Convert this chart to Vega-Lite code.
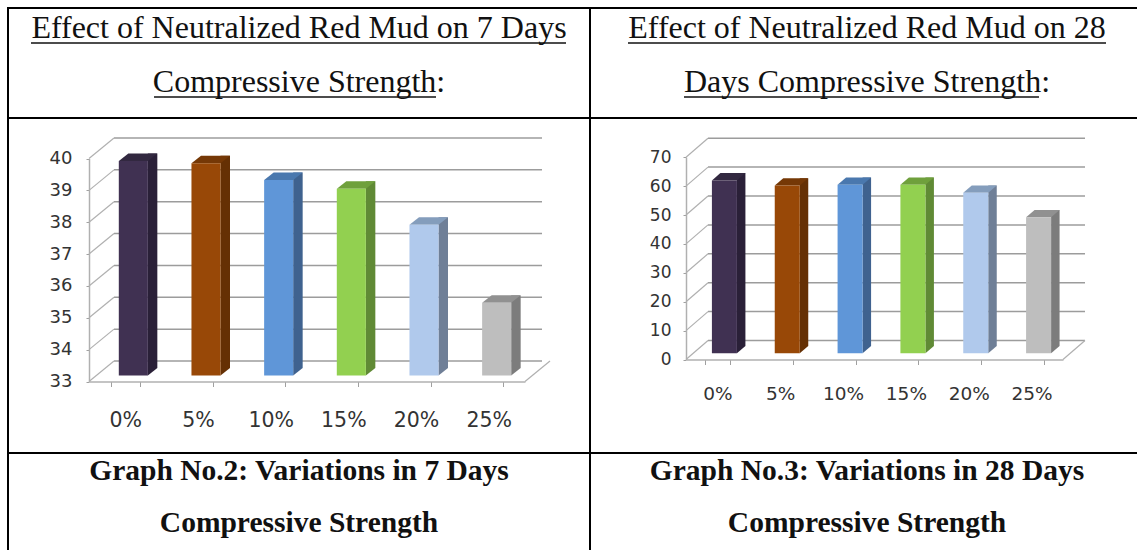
{"$schema":"https://vega.github.io/schema/vega-lite/v6.json","padding":{"left":7,"top":7,"right":0,"bottom":0},"background":"white","spacing":0,"bounds":"flush","columns":2,"config":{"view":{"stroke":"black","strokeWidth":2},"concat":{"spacing":0},"text":{"font":"Liberation Serif"}},
"datasets":{"strength7":[{"cat":"0%","value":39.73},{"cat":"5%","value":39.66},{"cat":"10%","value":39.14},{"cat":"15%","value":38.86},{"cat":"20%","value":37.73},{"cat":"25%","value":35.28}],
"strength28":[{"cat":"0%","value":59.8},{"cat":"5%","value":58},{"cat":"10%","value":58.3},{"cat":"15%","value":58.3},{"cat":"20%","value":55.5},{"cat":"25%","value":47}],
"ticks7":[{"tick":33},{"tick":34},{"tick":35},{"tick":36},{"tick":37},{"tick":38},{"tick":39},{"tick":40}],
"ticks28":[{"tick":0},{"tick":10},{"tick":20},{"tick":30},{"tick":40},{"tick":50},{"tick":60},{"tick":70}],
"head1":[{"line":1,"text":"Effect of Neutralized Red Mud on 7 Days"},{"line":2,"text":"Compressive Strength:"}],
"head2":[{"line":1,"text":"Effect of Neutralized Red Mud on 28"},{"line":2,"text":"Days Compressive Strength:"}],
"cap1":[{"line":1,"text":"Graph No.2: Variations in 7 Days"},{"line":2,"text":"Compressive Strength"}],
"cap2":[{"line":1,"text":"Graph No.3: Variations in 28 Days"},{"line":2,"text":"Compressive Strength"}]},
"concat":[
{"width":582,"height":110,"layer":[
{"data":{"name":"head1"},"mark":{"type":"text","fontSize":32,"baseline":"alphabetic","align":"center","color":"#111"},"encoding":{"x":{"datum":0.5,"type":"quantitative","scale":{"domain":[0,1]},"axis":null},"y":{"field":"line","type":"quantitative","scale":{"domain":[0.444,2.481],"reverse":true,"zero":false,"nice":false},"axis":null},"text":{"field":"text"}}},
{"data":{"values":[{}]},"mark":{"type":"rule","color":"#111","strokeWidth":1.6,"yOffset":5,"y2Offset":5},"encoding":{"x":{"datum":0.0395,"type":"quantitative"},"x2":{"datum":0.9588},"y":{"datum":1,"type":"quantitative"},"y2":{"datum":1}}},
{"data":{"values":[{}]},"mark":{"type":"rule","color":"#111","strokeWidth":1.6,"yOffset":5,"y2Offset":5},"encoding":{"x":{"datum":0.2509,"type":"quantitative"},"x2":{"datum":0.7354},"y":{"datum":2,"type":"quantitative"},"y2":{"datum":2}}}
]},
{"width":548,"height":110,"layer":[
{"data":{"name":"head2"},"mark":{"type":"text","fontSize":32,"baseline":"alphabetic","align":"center","color":"#111"},"encoding":{"x":{"datum":0.5055,"type":"quantitative","scale":{"domain":[0,1]},"axis":null},"y":{"field":"line","type":"quantitative","scale":{"domain":[0.444,2.481],"reverse":true,"zero":false,"nice":false},"axis":null},"text":{"field":"text"}}},
{"data":{"values":[{}]},"mark":{"type":"rule","color":"#111","strokeWidth":1.6,"yOffset":5,"y2Offset":5},"encoding":{"x":{"datum":0.0693,"type":"quantitative"},"x2":{"datum":0.9416},"y":{"datum":1,"type":"quantitative"},"y2":{"datum":1}}},
{"data":{"values":[{}]},"mark":{"type":"rule","color":"#111","strokeWidth":1.6,"yOffset":5,"y2Offset":5},"encoding":{"x":{"datum":0.1715,"type":"quantitative"},"x2":{"datum":0.8193},"y":{"datum":2,"type":"quantitative"},"y2":{"datum":2}}}
]},
{"width":582,"height":335,"resolve":{"scale":{"color":"independent"}},"layer":[
{"data":{"name":"ticks7"},"mark":{"type":"rule","color":"#9c9c9c","strokeWidth":1.5,"xOffset":-11.33,"x2Offset":53.33,"yOffset":-20.5,"y2Offset":-20.5},"encoding":{"x":{"datum":"0%","type":"ordinal","scale":{"type":"band","domain":["0%","5%","10%","15%","20%","25%"],"range":[81,517],"paddingInner":0.6,"paddingOuter":0.3},"axis":{"orient":"bottom","offset":-71.5,"title":null,"tickBand":"extent","labelAngle":0,"domainColor":"#b0b0b0","domainWidth":1.5,"tickColor":"#a0a0a0","tickSize":5,"tickWidth":1,"labelFont":"DejaVu Sans","labelFontSize":20.5,"labelColor":"#333","labelPadding":24}},"x2":{"datum":"25%"},"y":{"field":"tick","type":"quantitative","scale":{"domain":[33,40],"range":[263.5,40.5],"zero":false,"nice":false},"axis":{"orient":"left","offset":-81,"title":null,"values":[33,34,35,36,37,38,39,40],"grid":false,"domainColor":"#b0b0b0","domainWidth":1.5,"tickColor":"#a0a0a0","tickSize":3,"tickWidth":1,"labelFont":"DejaVu Sans","labelFontSize":18,"labelColor":"#333","labelPadding":14}},"y2":{"field":"tick"}}},
{"data":{"name":"ticks7"},"mark":{"type":"point","shape":"M0,0L0.5,-0.41","size":10000,"filled":false,"opacity":1,"stroke":"#b0b0b0","strokeWidth":1.2,"xOffset":-36.33},"encoding":{"x":{"datum":"0%","type":"ordinal","axis":{"title":null}},"y":{"field":"tick","type":"quantitative","axis":{"title":null}}}},
{"data":{"values":[{}]},"mark":{"type":"point","shape":"M0,0L0.5,-0.41","size":10000,"filled":false,"opacity":1,"stroke":"#b0b0b0","strokeWidth":1.2,"xOffset":36.33},"encoding":{"x":{"datum":"25%","type":"ordinal","axis":{"title":null}},"y":{"datum":33,"type":"quantitative","axis":{"title":null}}}},
{"data":{"name":"strength7"},"mark":{"type":"rule","strokeWidth":9.5,"strokeCap":"butt","xOffset":27.25,"x2Offset":27.25,"yOffset":-13.5,"y2Offset":-13.5},"encoding":{"x":{"field":"cat","type":"ordinal","axis":{"title":null}},"y":{"field":"value","type":"quantitative","axis":{"title":null}},"y2":{"datum":33},"color":{"field":"cat","legend":null,"scale":{"domain":["0%","5%","10%","15%","20%","25%"],"range":["#2a2038","#653004","#3f628f","#608a35","#6f7f97","#7c7c7c"]}}}},
{"data":{"name":"strength7"},"mark":{"type":"point","shape":"M0.29,0L0.48,-0.15L0.29,-0.15Z","size":10000,"filled":true,"opacity":1,"xOffset":8,"yOffset":-6},"encoding":{"x":{"field":"cat","type":"ordinal","axis":{"title":null}},"y":{"datum":33,"type":"quantitative","axis":{"title":null}},"color":{"field":"cat","legend":null,"scale":{"domain":["0%","5%","10%","15%","20%","25%"],"range":["#2a2038","#653004","#3f628f","#608a35","#6f7f97","#7c7c7c"]}}}},
{"data":{"name":"strength7"},"mark":{"type":"point","shape":"M-0.29,0L0.29,0L0.48,-0.15L-0.1,-0.15Z","size":10000,"filled":true,"opacity":1,"xOffset":8,"yOffset":-6},"encoding":{"x":{"field":"cat","type":"ordinal","axis":{"title":null}},"y":{"field":"value","type":"quantitative","axis":{"title":null}},"color":{"field":"cat","legend":null,"scale":{"domain":["0%","5%","10%","15%","20%","25%"],"range":["#322840","#753806","#4a78ae","#6fa03c","#849dbc","#919191"]}}}},
{"data":{"name":"strength7"},"mark":{"type":"bar","xOffset":8,"x2Offset":8,"yOffset":-6,"y2Offset":-6},"encoding":{"x":{"field":"cat","type":"ordinal","axis":{"title":null}},"y":{"field":"value","type":"quantitative","axis":{"title":null}},"y2":{"datum":33},"color":{"field":"cat","legend":null,"scale":{"domain":["0%","5%","10%","15%","20%","25%"],"range":["#403152","#984807","#5f96d8","#92d050","#b0c9ec","#bebebe"]}}}}
]},
{"width":548,"height":335,"resolve":{"scale":{"color":"independent"}},"layer":[
{"data":{"name":"ticks28"},"mark":{"type":"rule","color":"#9c9c9c","strokeWidth":1.5,"xOffset":-9.42,"x2Offset":53.42,"yOffset":-19,"y2Offset":-19},"encoding":{"x":{"datum":"0%","type":"ordinal","scale":{"type":"band","domain":["0%","5%","10%","15%","20%","25%"],"range":[96,473],"paddingInner":0.602,"paddingOuter":0.301},"axis":{"orient":"bottom","offset":-93.5,"title":null,"tickBand":"extent","labelAngle":0,"domainColor":"#b0b0b0","domainWidth":1.5,"tickColor":"#a0a0a0","tickSize":5,"tickWidth":1,"labelFont":"DejaVu Sans","labelFontSize":18.5,"labelColor":"#333","labelPadding":20}},"x2":{"datum":"25%"},"y":{"field":"tick","type":"quantitative","scale":{"domain":[0,70],"range":[241.5,39.2],"nice":false},"axis":{"orient":"left","offset":-96,"title":null,"values":[0,10,20,30,40,50,60,70],"grid":false,"domainColor":"#b0b0b0","domainWidth":1.5,"tickColor":"#a0a0a0","tickSize":3,"tickWidth":1,"labelFont":"DejaVu Sans","labelFontSize":17,"labelColor":"#333","labelPadding":12}},"y2":{"field":"tick"}}},
{"data":{"name":"ticks28"},"mark":{"type":"point","shape":"M0,0L0.44,-0.38","size":10000,"filled":false,"opacity":1,"stroke":"#b0b0b0","strokeWidth":1.2,"xOffset":-31.42},"encoding":{"x":{"datum":"0%","type":"ordinal","axis":{"title":null}},"y":{"field":"tick","type":"quantitative","axis":{"title":null}}}},
{"data":{"values":[{}]},"mark":{"type":"point","shape":"M0,0L0.44,-0.38","size":10000,"filled":false,"opacity":1,"stroke":"#b0b0b0","strokeWidth":1.2,"xOffset":31.42},"encoding":{"x":{"datum":"25%","type":"ordinal","axis":{"title":null}},"y":{"datum":0,"type":"quantitative","axis":{"title":null}}}},
{"data":{"name":"strength28"},"mark":{"type":"rule","strokeWidth":8.5,"strokeCap":"butt","xOffset":23.75,"x2Offset":23.75,"yOffset":-13.6,"y2Offset":-13.6},"encoding":{"x":{"field":"cat","type":"ordinal","axis":{"title":null}},"y":{"field":"value","type":"quantitative","axis":{"title":null}},"y2":{"datum":0},"color":{"field":"cat","legend":null,"scale":{"domain":["0%","5%","10%","15%","20%","25%"],"range":["#2a2038","#653004","#3f628f","#608a35","#6f7f97","#7c7c7c"]}}}},
{"data":{"name":"strength28"},"mark":{"type":"point","shape":"M0.25,0L0.42,-0.146L0.25,-0.146Z","size":10000,"filled":true,"opacity":1,"xOffset":7,"yOffset":-6.3},"encoding":{"x":{"field":"cat","type":"ordinal","axis":{"title":null}},"y":{"datum":0,"type":"quantitative","axis":{"title":null}},"color":{"field":"cat","legend":null,"scale":{"domain":["0%","5%","10%","15%","20%","25%"],"range":["#2a2038","#653004","#3f628f","#608a35","#6f7f97","#7c7c7c"]}}}},
{"data":{"name":"strength28"},"mark":{"type":"point","shape":"M-0.25,0L0.25,0L0.42,-0.146L-0.08,-0.146Z","size":10000,"filled":true,"opacity":1,"xOffset":7,"yOffset":-6.3},"encoding":{"x":{"field":"cat","type":"ordinal","axis":{"title":null}},"y":{"field":"value","type":"quantitative","axis":{"title":null}},"color":{"field":"cat","legend":null,"scale":{"domain":["0%","5%","10%","15%","20%","25%"],"range":["#322840","#753806","#4a78ae","#6fa03c","#849dbc","#919191"]}}}},
{"data":{"name":"strength28"},"mark":{"type":"bar","xOffset":7,"x2Offset":7,"yOffset":-6.3,"y2Offset":-6.3},"encoding":{"x":{"field":"cat","type":"ordinal","axis":{"title":null}},"y":{"field":"value","type":"quantitative","axis":{"title":null}},"y2":{"datum":0},"color":{"field":"cat","legend":null,"scale":{"domain":["0%","5%","10%","15%","20%","25%"],"range":["#403152","#984807","#5f96d8","#92d050","#b0c9ec","#bebebe"]}}}}
]},
{"width":582,"height":98,"layer":[{"data":{"name":"cap1"},"mark":{"type":"text","fontSize":29.5,"fontWeight":"bold","baseline":"alphabetic","align":"center","color":"#111"},"encoding":{"x":{"datum":0.5,"type":"quantitative","scale":{"domain":[0,1]},"axis":null},"y":{"field":"line","type":"quantitative","scale":{"domain":[0.481,2.365],"reverse":true,"zero":false,"nice":false},"axis":null},"text":{"field":"text"}}}]},
{"width":548,"height":98,"layer":[{"data":{"name":"cap2"},"mark":{"type":"text","fontSize":29.5,"fontWeight":"bold","baseline":"alphabetic","align":"center","color":"#111"},"encoding":{"x":{"datum":0.5055,"type":"quantitative","scale":{"domain":[0,1]},"axis":null},"y":{"field":"line","type":"quantitative","scale":{"domain":[0.481,2.365],"reverse":true,"zero":false,"nice":false},"axis":null},"text":{"field":"text"}}}]}
]}
